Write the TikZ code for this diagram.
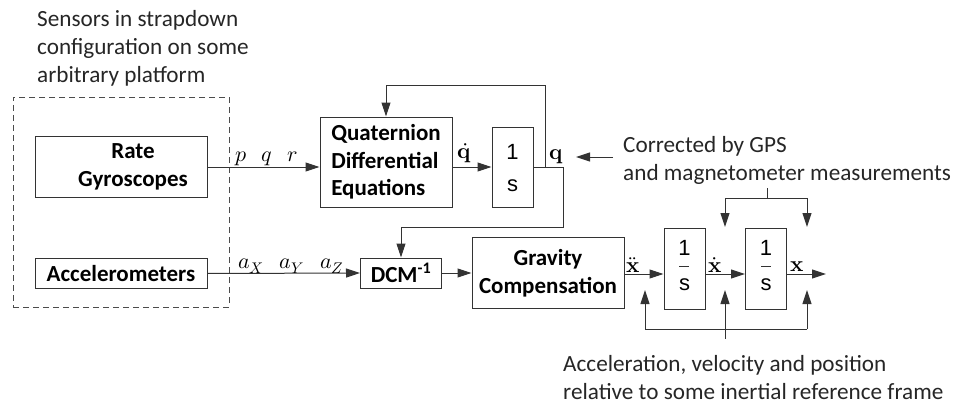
\documentclass[tikz,border=0pt]{standalone}
\usepackage{unicode-math}
\setmainfont{Carlito}
\setsansfont{Liberation Sans}
\setmathfont{Latin Modern Math}
\usetikzlibrary{arrows.meta}
\tikzset{
  blk/.style={draw=black!80, line width=1pt, inner sep=0pt, align=center, font=\fontsize{23}{27.5}\selectfont\bfseries},
  conn/.style={draw=black!80, line width=1pt},
  arr/.style={conn, -{Triangle[length=14pt,width=9pt]}},
  lbl/.style={inner sep=0pt, font=\fontsize{22}{22}\selectfont},
  note/.style={inner sep=0pt, align=left, anchor=west, font=\fontsize{23.2}{28}\selectfont, text=black!85},
  frac/.style={inner sep=0pt, font=\sffamily\fontsize{22}{22}\selectfont}
}
\begin{document}
\begin{tikzpicture}[x=1pt,y=-1pt]
\useasboundingbox (0,0) rectangle (953,404);
% texts
\node[note] (sens) at (37,48.5) {Sensors in strapdown\\configuration on some\\arbitrary platform};
\node[note] (corr) at (623,160) {Corrected by GPS\\and magnetometer measurements};
\node[note] (accn) at (563,378) {Acceleration, velocity and position\\relative to some inertial reference frame};
% dashed container
\node[draw=black!70, dashed, dash pattern=on 6pt off 4pt, line width=1pt, minimum width=216pt, minimum height=210pt, inner sep=0pt] (plat) at (121,202) {};
% blocks
\node[blk, minimum width=172pt, minimum height=61pt] (gyro) at (121,167) {};
\node[inner sep=0pt, align=center, font=\fontsize{23}{27.5}\selectfont\bfseries] (gyrot) at (133,167) {Rate\\Gyroscopes};
\node[blk, minimum width=172pt, minimum height=30pt] (acc) at (121,273.5) {Accelerometers};
\node[blk, minimum width=132pt, minimum height=90pt, align=left] (quat) at (386,162) {Quaternion\\Differential\\Equations};
\node[blk, minimum width=41pt, minimum height=80pt] (int1) at (512.5,167) {};
\node[frac] (one1) at (512.5,152) {1};
\node[frac] (s1) at (512.5,186) {s};
\node[blk, minimum width=81pt, minimum height=30pt] (dcm) at (401,273) {DCM\textsuperscript{-1}};
\node[blk, minimum width=152pt, minimum height=71pt] (grav) at (548,273) {Gravity\\Compensation};
\node[blk, minimum width=41pt, minimum height=81pt] (int2) at (684.5,268.5) {};
\node[frac] (one2) at (684.5,248) {1};
\node[frac] (s2) at (684.5,285) {s};
\draw[conn] (679,266.5) -- (689,266.5);
\node[blk, minimum width=41pt, minimum height=81pt] (int3) at (766,268.5) {};
\node[frac] (one3) at (766,248) {1};
\node[frac] (s3) at (766,285) {s};
\draw[conn] (761,266.5) -- (771,266.5);
% coordinates
\coordinate (qout) at (563,167);
\coordinate (qdn) at (563,227.5);
\coordinate (dcmin) at (dcm.north |- qdn);
\coordinate (fbb) at (545,167);
\coordinate (fbt) at (545,85.5);
\coordinate (fbl) at (quat.north |- fbt);
\coordinate (corrtail) at (613,157);
\coordinate (corrtip) at (576,157);
\coordinate (gpsa) at (767,188);
\coordinate (gpsb) at (767,198);
\coordinate (gpsl) at (725,198);
\coordinate (gpsr) at (807,198);
\coordinate (xout) at (826,274);
\coordinate (bl) at (645,329);
\coordinate (bm) at (725,329);
\coordinate (br) at (807,329);
\coordinate (bstem) at (725,339);
% connectors
\draw[arr] (gyro.east) -- (gyro.east -| quat.west);
\draw[arr] (int1.west -| quat.east) -- (int1.west);
\draw[conn] (int1.east) -- (qout) -- (qdn) -- (dcmin);
\draw[arr] (dcmin) -- (dcm.north);
\draw[arr] (fbb) -- (fbt) -- (fbl) -- (quat.north);
\draw[arr] (acc.east) -- (dcm.west);
\draw[arr] (dcm.east) -- (grav.west);
\draw[arr] (grav.east |- xout) -- (int2.west |- xout);
\draw[arr] (int2.east |- xout) -- (int3.west |- xout);
\draw[arr] (int3.east |- xout) -- (xout);
\draw[arr] (corrtail) -- (corrtip);
\draw[conn] (gpsa) -- (gpsb);
\draw[arr] (gpsb) -- (gpsl) -- (725,227);
\draw[arr] (gpsb) -- (gpsr) -- (807,227);
\draw[conn] (bl) -- (br);
\draw[conn] (bm) -- (bstem);
\draw[arr] (bl) -- (645,290);
\draw[arr] (bm) -- (725,290);
\draw[arr] (br) -- (807,290);
% labels
\node[lbl] (lp) at (241,159) {$p$};
\node[lbl] (lq) at (267,159) {$q$};
\node[lbl] (lr) at (293,157) {$r$};
\node[lbl] (lax) at (251,266) {$a_X$};
\node[lbl] (lay) at (292,266) {$a_Y$};
\node[lbl] (laz) at (332,266) {$a_Z$};
\node[lbl] (lqd) at (464,153) {$\dot{\symbf{q}}$};
\node[lbl] (lqq) at (556,157) {$\symbf{q}$};
\node[lbl] (lxdd) at (633,265) {$\ddot{\symbf{x}}$};
\node[lbl] (lxd) at (715,265) {$\dot{\symbf{x}}$};
\node[lbl] (lx) at (797,267) {$\symbf{x}$};
\end{tikzpicture}
\end{document}
